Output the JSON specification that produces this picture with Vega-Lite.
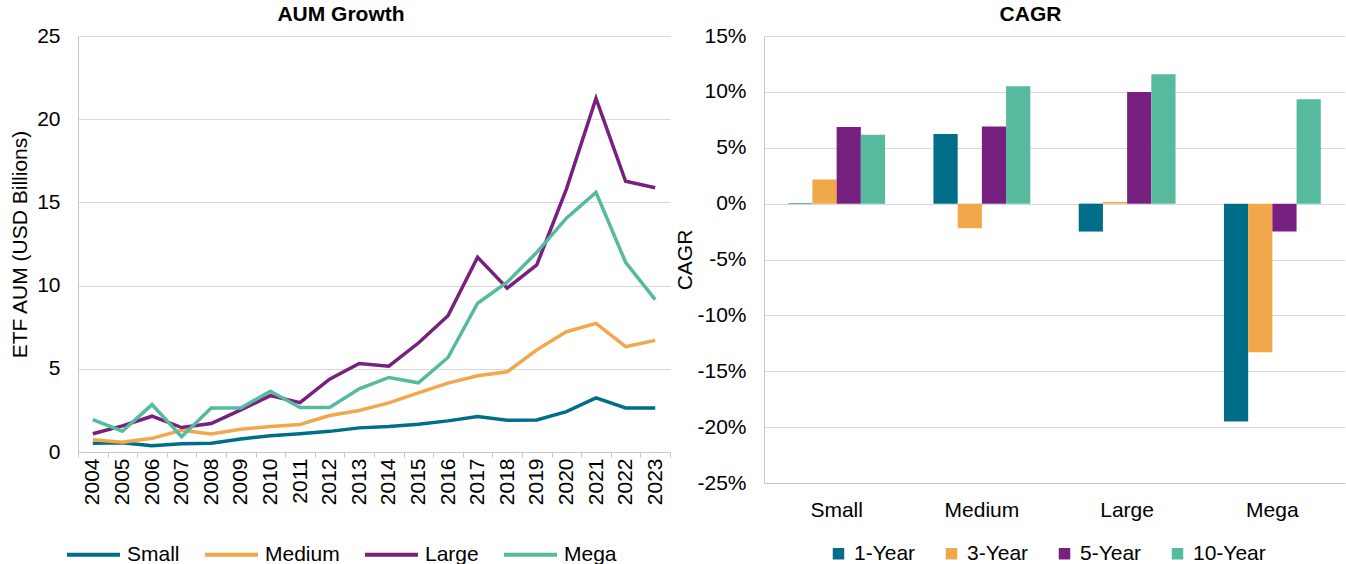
{
  "$schema": "https://vega.github.io/schema/vega-lite/v6.json",
  "padding": {"left": 9, "top": 4, "right": 3, "bottom": 0},
  "background": "white",
  "config": {
    "font": "Liberation Sans",
    "view": {"stroke": null},
    "axis": {
      "labelFont": "Liberation Sans", "labelFontSize": 21, "labelColor": "#000000",
      "titleFont": "Liberation Sans", "titleFontSize": 21, "titleFontWeight": "normal", "titleColor": "#000000",
      "gridColor": "#D9D9D9", "domainColor": "#C8C8C8", "tickColor": "#C8C8C8"
    },
    "legend": {"labelFont": "Liberation Sans", "labelFontSize": 21, "labelColor": "#000000"},
    "title": {"font": "Liberation Sans", "fontSize": 21, "fontWeight": "bold", "color": "#000000"}
  },
  "datasets": {
    "aum": [
      {"year": "2004", "size": "Small", "aum": 0.52}, {"year": "2005", "size": "Small", "aum": 0.56}, {"year": "2006", "size": "Small", "aum": 0.38}, {"year": "2007", "size": "Small", "aum": 0.50}, {"year": "2008", "size": "Small", "aum": 0.52},
      {"year": "2009", "size": "Small", "aum": 0.78}, {"year": "2010", "size": "Small", "aum": 0.98}, {"year": "2011", "size": "Small", "aum": 1.10}, {"year": "2012", "size": "Small", "aum": 1.24}, {"year": "2013", "size": "Small", "aum": 1.45},
      {"year": "2014", "size": "Small", "aum": 1.53}, {"year": "2015", "size": "Small", "aum": 1.67}, {"year": "2016", "size": "Small", "aum": 1.87}, {"year": "2017", "size": "Small", "aum": 2.13}, {"year": "2018", "size": "Small", "aum": 1.91},
      {"year": "2019", "size": "Small", "aum": 1.93}, {"year": "2020", "size": "Small", "aum": 2.43}, {"year": "2021", "size": "Small", "aum": 3.25}, {"year": "2022", "size": "Small", "aum": 2.65}, {"year": "2023", "size": "Small", "aum": 2.65},
      {"year": "2004", "size": "Medium", "aum": 0.74}, {"year": "2005", "size": "Medium", "aum": 0.58}, {"year": "2006", "size": "Medium", "aum": 0.82}, {"year": "2007", "size": "Medium", "aum": 1.30}, {"year": "2008", "size": "Medium", "aum": 1.08},
      {"year": "2009", "size": "Medium", "aum": 1.37}, {"year": "2010", "size": "Medium", "aum": 1.53}, {"year": "2011", "size": "Medium", "aum": 1.65}, {"year": "2012", "size": "Medium", "aum": 2.19}, {"year": "2013", "size": "Medium", "aum": 2.49},
      {"year": "2014", "size": "Medium", "aum": 2.95}, {"year": "2015", "size": "Medium", "aum": 3.55}, {"year": "2016", "size": "Medium", "aum": 4.14}, {"year": "2017", "size": "Medium", "aum": 4.58}, {"year": "2018", "size": "Medium", "aum": 4.82},
      {"year": "2019", "size": "Medium", "aum": 6.14}, {"year": "2020", "size": "Medium", "aum": 7.23}, {"year": "2021", "size": "Medium", "aum": 7.73}, {"year": "2022", "size": "Medium", "aum": 6.33}, {"year": "2023", "size": "Medium", "aum": 6.71},
      {"year": "2004", "size": "Large", "aum": 1.10}, {"year": "2005", "size": "Large", "aum": 1.57}, {"year": "2006", "size": "Large", "aum": 2.15}, {"year": "2007", "size": "Large", "aum": 1.47}, {"year": "2008", "size": "Large", "aum": 1.71},
      {"year": "2009", "size": "Large", "aum": 2.53}, {"year": "2010", "size": "Large", "aum": 3.39}, {"year": "2011", "size": "Large", "aum": 2.97}, {"year": "2012", "size": "Large", "aum": 4.38}, {"year": "2013", "size": "Large", "aum": 5.32},
      {"year": "2014", "size": "Large", "aum": 5.16}, {"year": "2015", "size": "Large", "aum": 6.55}, {"year": "2016", "size": "Large", "aum": 8.19}, {"year": "2017", "size": "Large", "aum": 11.70}, {"year": "2018", "size": "Large", "aum": 9.85},
      {"year": "2019", "size": "Large", "aum": 11.25}, {"year": "2020", "size": "Large", "aum": 15.80}, {"year": "2021", "size": "Large", "aum": 21.25}, {"year": "2022", "size": "Large", "aum": 16.27}, {"year": "2023", "size": "Large", "aum": 15.88},
      {"year": "2004", "size": "Mega", "aum": 1.95}, {"year": "2005", "size": "Mega", "aum": 1.25}, {"year": "2006", "size": "Mega", "aum": 2.85}, {"year": "2007", "size": "Mega", "aum": 0.92}, {"year": "2008", "size": "Mega", "aum": 2.65},
      {"year": "2009", "size": "Mega", "aum": 2.65}, {"year": "2010", "size": "Mega", "aum": 3.65}, {"year": "2011", "size": "Mega", "aum": 2.67}, {"year": "2012", "size": "Mega", "aum": 2.67}, {"year": "2013", "size": "Mega", "aum": 3.80},
      {"year": "2014", "size": "Mega", "aum": 4.48}, {"year": "2015", "size": "Mega", "aum": 4.16}, {"year": "2016", "size": "Mega", "aum": 5.68}, {"year": "2017", "size": "Mega", "aum": 8.94}, {"year": "2018", "size": "Mega", "aum": 10.20},
      {"year": "2019", "size": "Mega", "aum": 12.00}, {"year": "2020", "size": "Mega", "aum": 14.05}, {"year": "2021", "size": "Mega", "aum": 15.60}, {"year": "2022", "size": "Mega", "aum": 11.40}, {"year": "2023", "size": "Mega", "aum": 9.16}
    ],
    "cagr": [
      {"size": "Small", "period": "1-Year", "cagr": 0.05}, {"size": "Small", "period": "3-Year", "cagr": 2.17}, {"size": "Small", "period": "5-Year", "cagr": 6.85}, {"size": "Small", "period": "10-Year", "cagr": 6.16},
      {"size": "Medium", "period": "1-Year", "cagr": 6.22}, {"size": "Medium", "period": "3-Year", "cagr": -2.2}, {"size": "Medium", "period": "5-Year", "cagr": 6.9}, {"size": "Medium", "period": "10-Year", "cagr": 10.5},
      {"size": "Large", "period": "1-Year", "cagr": -2.5}, {"size": "Large", "period": "3-Year", "cagr": 0.15}, {"size": "Large", "period": "5-Year", "cagr": 10.0}, {"size": "Large", "period": "10-Year", "cagr": 11.58},
      {"size": "Mega", "period": "1-Year", "cagr": -19.5}, {"size": "Mega", "period": "3-Year", "cagr": -13.3}, {"size": "Mega", "period": "5-Year", "cagr": -2.5}, {"size": "Mega", "period": "10-Year", "cagr": 9.35}
    ]
  },
  "spacing": 3,
  "resolve": {"scale": {"color": "independent"}, "legend": {"color": "independent"}},
  "hconcat": [
    {
      "width": 592, "height": 416,
      "title": {"text": "AUM Growth", "frame": "group", "anchor": "middle", "dx": -33, "offset": 0},
      "data": {"name": "aum"},
      "mark": {"type": "line", "strokeWidth": 3.5},
      "encoding": {
        "x": {"field": "year", "type": "ordinal",
          "scale": {"type": "band", "paddingInner": 0, "paddingOuter": 0},
          "axis": {"title": null, "labelAngle": -90, "tickBand": "extent", "tickSize": 5, "labelPadding": 1, "grid": false}},
        "y": {"field": "aum", "type": "quantitative", "scale": {"domain": [0, 25]},
          "axis": {"title": "ETF AUM (USD Billions)", "values": [0, 5, 10, 15, 20, 25], "ticks": false, "labelPadding": 18, "titlePadding": 6, "grid": true}},
        "color": {"field": "size", "type": "nominal",
          "scale": {"domain": ["Small", "Medium", "Large", "Mega"], "range": ["#006E89", "#F0A84B", "#772080", "#55BA9E"]},
          "legend": {"title": null, "orient": "none", "legendX": -13, "legendY": 490, "direction": "horizontal",
            "symbolType": "stroke", "symbolSize": 2809, "symbolStrokeWidth": 4, "columnPadding": 17, "labelOffset": 5}}
      }
    },
    {
      "width": 581, "height": 447,
      "title": {"text": "CAGR", "frame": "group", "anchor": "middle", "dx": -24, "offset": 0},
      "data": {"name": "cagr"},
      "mark": {"type": "bar"},
      "encoding": {
        "x": {"field": "size", "type": "nominal", "sort": ["Small", "Medium", "Large", "Mega"],
          "scale": {"paddingInner": 0, "paddingOuter": 0},
          "axis": {"title": null, "labelAngle": 0, "ticks": false, "labelPadding": 16}},
        "xOffset": {"field": "period", "type": "nominal", "sort": ["1-Year", "3-Year", "5-Year", "10-Year"],
          "scale": {"paddingInner": 0, "paddingOuter": 1.115}},
        "y": {"field": "cagr", "type": "quantitative", "scale": {"domain": [-25, 15]},
          "axis": {"title": "CAGR", "values": [-25, -20, -15, -10, -5, 0, 5, 10, 15], "labelExpr": "datum.value + '%'", "ticks": false, "labelPadding": 18, "titlePadding": 1, "grid": true}},
        "color": {"field": "period", "type": "nominal",
          "scale": {"domain": ["1-Year", "3-Year", "5-Year", "10-Year"], "range": ["#006E89", "#F0A84B", "#772080", "#55BA9E"]},
          "legend": {"title": null, "orient": "none", "legendX": 64, "legendY": 507, "direction": "horizontal", "columns": 4, "gridAlign": "all",
            "symbolType": "square", "symbolSize": 132, "symbolStrokeWidth": 0, "symbolOpacity": 1, "columnPadding": 14, "labelOffset": 5}}
      }
    }
  ]
}
